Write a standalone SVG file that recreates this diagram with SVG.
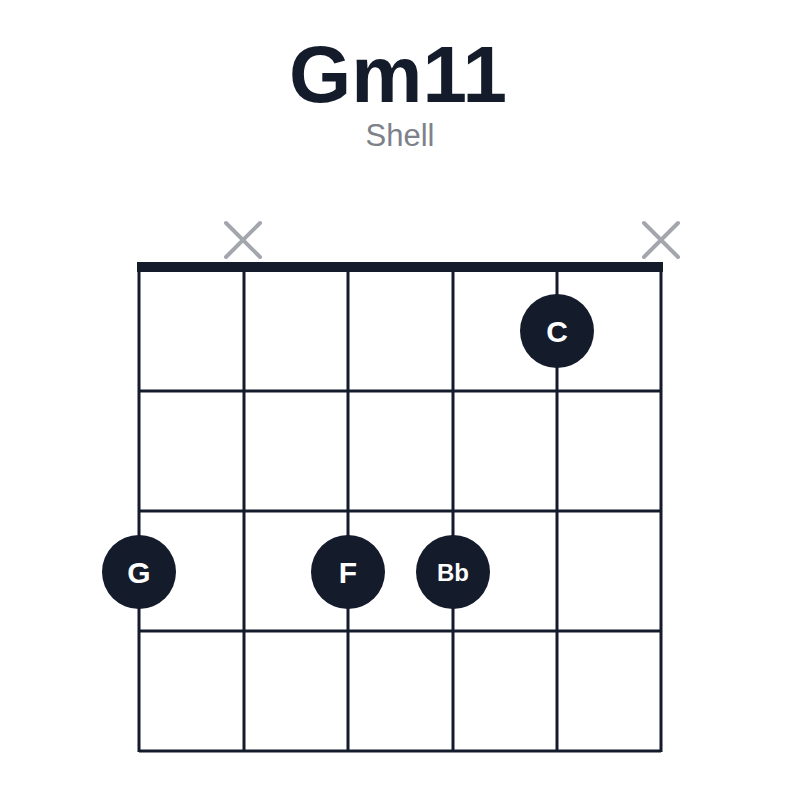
<svg xmlns="http://www.w3.org/2000/svg" width="800" height="800" viewBox="0 0 800 800">
<style>
.l{stroke:#141b2b;stroke-width:3;fill:none}
.x{stroke:#a3a6ad;stroke-width:4;stroke-linecap:round}
.d{fill:#141b2b}
.t{fill:#fff;font-family:"Liberation Sans",Arial,sans-serif;font-weight:bold;text-anchor:middle}
</style>
<rect width="800" height="800" fill="#fff"/>
<text x="398" y="102" text-anchor="middle" font-family="Liberation Sans,Arial,sans-serif" font-weight="bold" font-size="80" fill="#141b2b">Gm11</text>
<text x="400" y="146" text-anchor="middle" font-family="Liberation Sans,Arial,sans-serif" font-size="31" fill="#7d8189">Shell</text>
<g id="grid" class="l">
<line x1="139" y1="267" x2="139" y2="752"/><line x1="244" y1="267" x2="244" y2="752"/><line x1="348" y1="267" x2="348" y2="752"/><line x1="453" y1="267" x2="453" y2="752"/><line x1="557" y1="267" x2="557" y2="752"/><line x1="661" y1="267" x2="661" y2="752"/>
<line x1="139" y1="391" x2="661" y2="391"/><line x1="139" y1="511" x2="661" y2="511"/><line x1="139" y1="631" x2="661" y2="631"/><line x1="139" y1="751" x2="661" y2="751"/>
<line x1="137" y1="267" x2="663" y2="267" stroke-width="10"/>
</g>
<g id="mutes" class="x">
<line x1="226" y1="223" x2="260" y2="257"/><line x1="260" y1="223" x2="226" y2="257"/>
<line x1="644" y1="223" x2="678" y2="257"/><line x1="678" y1="223" x2="644" y2="257"/>
</g>
<g id="dotC"><circle class="d" cx="557" cy="331" r="37"/><text class="t" x="557" y="342" font-size="30">C</text></g>
<g id="dotG"><circle class="d" cx="139" cy="572" r="37"/><text class="t" x="139" y="583" font-size="30">G</text></g>
<g id="dotF"><circle class="d" cx="348" cy="572" r="37"/><text class="t" x="348" y="583" font-size="30">F</text></g>
<g id="dotBb"><circle class="d" cx="453" cy="572" r="37"/><text class="t" x="453" y="581" font-size="24">Bb</text></g>
</svg>
